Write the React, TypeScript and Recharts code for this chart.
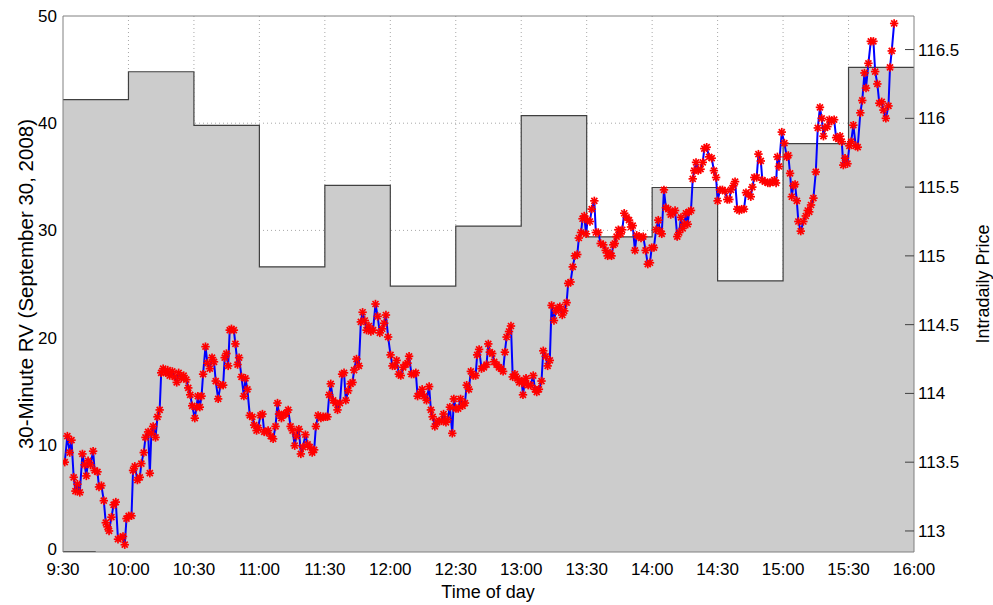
import React from "react";
import {
  ComposedChart,
  Area,
  Line,
  XAxis,
  YAxis,
  CartesianGrid,
  ReferenceLine,
  Label,
} from "recharts";

// minutes after 9:30 for the x axis ticks
const timeTicks = [0, 30, 60, 90, 120, 150, 180, 210, 240, 270, 300, 330, 360, 390];
const rvTicks = [0, 10, 20, 30, 40, 50];
const priceTicks = [113, 113.5, 114, 114.5, 115, 115.5, 116, 116.5];

// 30-minute realized variance, one value per half hour bin
const rvBinStarts = [0, 30, 60, 90, 120, 150, 180, 210, 240, 270, 300, 330, 360];
const rvValues = [42.2, 44.8, 39.8, 26.6, 34.2, 24.8, 30.4, 40.7, 29.4, 34.0, 25.3, 38.1, 45.2];

// short black segment on the baseline at the open
const zeroSegment = [0, 15];

// intraday price: [minutes after 9:30, price]
const pricePoints: [number, number][] = [
  [0.8, 113.5], [2.0, 113.69], [3.1, 113.57], [3.9, 113.66], [4.9, 113.39], [5.7, 113.29],
  [6.6, 113.34], [7.7, 113.28], [8.9, 113.56], [9.9, 113.48], [10.7, 113.4], [11.5, 113.51],
  [12.6, 113.48], [13.8, 113.58], [14.5, 113.44], [15.8, 113.43], [16.5, 113.32], [17.6, 113.33],
  [18.7, 113.22], [19.6, 113.06], [20.4, 113.03], [21.1, 113.0], [22.2, 113.1], [23.2, 113.19],
  [24.2, 113.21], [25.2, 112.94], [26.3, 112.95], [27.5, 112.96], [28.3, 112.9], [29.1, 113.09],
  [30.1, 113.11], [31.4, 113.11], [32.1, 113.44], [32.9, 113.47], [34.1, 113.37], [35.2, 113.39],
  [35.9, 113.49], [37.0, 113.57], [37.8, 113.68], [39.0, 113.72], [39.8, 113.42], [40.5, 113.71],
  [41.3, 113.76], [42.4, 113.68], [43.3, 113.83], [44.3, 113.88], [45.0, 114.15], [45.9, 114.18],
  [47.1, 114.15], [48.0, 114.17], [48.9, 114.13], [50.1, 114.16], [51.2, 114.12], [52.1, 114.08],
  [53.0, 114.15], [54.2, 114.11], [55.3, 114.13], [56.5, 114.1], [57.4, 114.04], [58.3, 113.99],
  [59.2, 113.91], [60.4, 113.82], [61.2, 113.9], [61.8, 113.98], [62.7, 113.9], [63.5, 113.98],
  [64.2, 114.14], [65.3, 114.34], [66.2, 114.22], [67.3, 114.18], [68.3, 114.26], [69.2, 114.23],
  [70.0, 114.09], [71.1, 113.96], [72.2, 114.06], [73.4, 114.06], [74.1, 114.26], [74.9, 114.29],
  [75.7, 114.2], [76.4, 114.46], [77.2, 114.47], [78.3, 114.46], [79.0, 114.36], [80.0, 114.21],
  [80.7, 114.26], [81.8, 114.12], [82.9, 113.98], [83.6, 114.11], [84.5, 114.03], [85.6, 113.84],
  [86.7, 113.83], [87.6, 113.77], [88.7, 113.73], [89.4, 113.75], [90.5, 113.84], [91.4, 113.85],
  [92.2, 113.72], [93.3, 113.72], [94.0, 113.73], [95.2, 113.69], [96.3, 113.67], [97.4, 113.76],
  [98.3, 113.93], [99.0, 113.85], [100.1, 113.82], [101.2, 113.85], [102.1, 113.85], [103.2, 113.88],
  [104.3, 113.76], [105.2, 113.73], [106.2, 113.62], [107.0, 113.69], [108.1, 113.74], [109.0, 113.56],
  [110.0, 113.61], [111.1, 113.7], [112.1, 113.63], [113.1, 113.61], [114.2, 113.57], [115.1, 113.59],
  [115.9, 113.76], [116.9, 113.84], [118.2, 113.82], [119.2, 113.83], [120.3, 113.83], [121.2, 113.83],
  [122.0, 113.99], [122.7, 114.07], [123.8, 113.95], [124.9, 113.93], [125.8, 113.88], [126.9, 113.93],
  [127.9, 114.14], [128.8, 114.15], [129.6, 113.95], [130.7, 114.02], [131.8, 114.07], [132.7, 114.08],
  [133.4, 114.17], [134.5, 114.25], [135.6, 114.2], [136.5, 114.52], [137.3, 114.59], [138.3, 114.53],
  [139.1, 114.46], [140.2, 114.49], [141.1, 114.45], [142.1, 114.46], [143.2, 114.65], [144.2, 114.56],
  [145.2, 114.44], [146.3, 114.47], [147.2, 114.51], [148.0, 114.57], [149.0, 114.41], [150.1, 114.28],
  [151.0, 114.2], [152.1, 114.2], [152.9, 114.24], [153.9, 114.14], [154.8, 114.13], [155.9, 114.19],
  [157.0, 114.21], [157.9, 114.22], [158.6, 114.27], [159.7, 114.14], [160.8, 114.14], [161.7, 114.15],
  [162.5, 113.98], [163.5, 114.0], [164.6, 114.03], [165.5, 113.98], [166.6, 113.95], [167.8, 114.05],
  [168.6, 113.88], [169.4, 113.83], [170.4, 113.76], [171.5, 113.79], [172.4, 113.8], [173.5, 113.8],
  [174.4, 113.85], [175.5, 113.79], [176.2, 113.81], [177.3, 113.9], [178.4, 113.71], [179.1, 113.96],
  [180.1, 113.89], [181.1, 113.89], [182.2, 113.96], [183.1, 113.91], [184.2, 113.93], [185.0, 114.06],
  [186.0, 114.03], [186.9, 114.16], [188.0, 114.13], [189.1, 114.13], [189.8, 114.28], [190.7, 114.32],
  [191.8, 114.18], [192.9, 114.19], [194.1, 114.21], [194.9, 114.36], [195.6, 114.3], [196.7, 114.29],
  [197.6, 114.23], [198.7, 114.21], [199.8, 114.19], [200.7, 114.18], [201.7, 114.16], [202.5, 114.3],
  [203.3, 114.41], [204.4, 114.45], [205.3, 114.49], [206.1, 114.12], [207.1, 114.14], [208.2, 114.11],
  [209.1, 114.08], [210.2, 114.09], [210.8, 113.99], [211.5, 114.07], [212.2, 114.11], [213.2, 114.06],
  [214.3, 114.06], [215.5, 114.13], [216.3, 114.03], [217.1, 114.01], [218.1, 114.03], [219.3, 114.09],
  [220.1, 114.31], [221.2, 114.27], [222.1, 114.2], [223.1, 114.24], [223.9, 114.64], [225.0, 114.53],
  [225.9, 114.6], [227.0, 114.62], [227.7, 114.63], [228.8, 114.57], [229.7, 114.6], [230.8, 114.66],
  [231.5, 114.8], [232.6, 114.81], [233.6, 114.92], [234.6, 115.0], [235.7, 115.01], [236.4, 115.13],
  [237.4, 115.17], [238.1, 115.27], [238.9, 115.29], [239.7, 115.16], [240.4, 115.26], [241.5, 115.25],
  [242.3, 115.34], [243.5, 115.4], [244.2, 115.17], [245.3, 115.17], [246.4, 115.09], [247.6, 115.08],
  [248.7, 115.04], [249.6, 115.0], [250.7, 115.02], [251.4, 115.0], [252.2, 115.08], [252.9, 115.09],
  [253.7, 115.14], [254.5, 115.19], [255.6, 115.16], [256.3, 115.19], [257.2, 115.31], [258.3, 115.28],
  [259.4, 115.26], [260.3, 115.21], [261.1, 115.22], [262.1, 115.04], [262.9, 115.15], [264.0, 115.14],
  [264.9, 115.13], [265.9, 115.14], [267.0, 115.04], [268.0, 114.94], [269.0, 114.95], [269.8, 115.06],
  [270.8, 115.06], [271.8, 115.19], [272.8, 115.26], [273.6, 115.18], [274.4, 115.16], [275.4, 115.48],
  [276.3, 115.35], [277.4, 115.34], [278.5, 115.3], [279.4, 115.31], [280.5, 115.33], [281.5, 115.14],
  [282.4, 115.17], [283.2, 115.28], [284.0, 115.2], [284.7, 115.23], [285.5, 115.31], [286.3, 115.23],
  [286.9, 115.32], [287.8, 115.33], [288.6, 115.56], [289.3, 115.62], [290.1, 115.68], [291.1, 115.62],
  [292.2, 115.63], [293.2, 115.68], [293.9, 115.78], [295.0, 115.79], [296.1, 115.72], [297.3, 115.71],
  [298.3, 115.62], [299.3, 115.57], [300.0, 115.4], [301.1, 115.48], [302.2, 115.48], [303.4, 115.47],
  [304.4, 115.41], [305.4, 115.41], [306.1, 115.48], [307.2, 115.51], [308.0, 115.54], [309.0, 115.34],
  [309.9, 115.33], [311.0, 115.34], [312.1, 115.34], [313.0, 115.46], [314.1, 115.45], [315.2, 115.43],
  [315.9, 115.5], [316.8, 115.57], [317.9, 115.57], [318.7, 115.74], [319.8, 115.69], [320.5, 115.55],
  [321.7, 115.54], [323.0, 115.53], [324.0, 115.53], [325.1, 115.54], [326.0, 115.55], [326.8, 115.53],
  [327.4, 115.72], [328.1, 115.65], [329.4, 115.9], [330.6, 115.82], [331.7, 115.72], [332.4, 115.73],
  [333.2, 115.6], [334.0, 115.43], [334.7, 115.51], [335.5, 115.52], [336.3, 115.4], [337.0, 115.25],
  [338.1, 115.18], [339.3, 115.25], [340.4, 115.29], [341.3, 115.33], [342.0, 115.32], [342.8, 115.37],
  [343.9, 115.42], [345.0, 115.61], [345.9, 115.93], [346.9, 116.08], [347.7, 116.0], [348.5, 115.87],
  [349.2, 115.93], [350.3, 115.94], [351.2, 115.99], [352.3, 115.98], [353.4, 115.99], [354.3, 115.86],
  [355.3, 115.85], [356.1, 115.87], [356.9, 115.83], [357.6, 115.66], [358.4, 115.71], [359.5, 115.67],
  [360.4, 115.8], [361.2, 115.83], [362.2, 115.95], [363.3, 115.8], [364.2, 115.79], [365.4, 116.04],
  [366.3, 116.13], [367.3, 116.33], [368.0, 116.22], [369.1, 116.4], [370.2, 116.56], [371.4, 116.56],
  [372.2, 116.34], [373.2, 116.25], [374.1, 116.11], [375.2, 116.12], [376.0, 116.06], [377.1, 116.0],
  [378.3, 116.09], [379.0, 116.37], [379.8, 116.49], [380.9, 116.69],
];

const FONT = "'Liberation Sans', Arial, Helvetica, sans-serif";
const AXIS_GRAY = "#808080";

function formatTime(m: number) {
  const total = 9 * 60 + 30 + m;
  const h = Math.floor(total / 60);
  const mm = total % 60;
  return `${h}:${mm < 10 ? "0" : ""}${mm}`;
}

const rvData = [
  ...rvBinStarts.map((t, i) => ({ t, rv: rvValues[i] })),
  { t: 390, rv: rvValues[rvValues.length - 1] },
];
const zeroData = zeroSegment.map((t) => ({ t, z: 0 }));
const priceData = pricePoints.map(([t, p]) => ({ t, p }));

// MATLAB style '*' marker
const Asterisk = (props: any) => {
  const { cx, cy } = props;
  if (cx == null || cy == null) return null;
  const r = 4.2;
  const d = 3;
  return (
    <g stroke="#ff0000" strokeWidth={1.7}>
      <line x1={cx - r} y1={cy} x2={cx + r} y2={cy} />
      <line x1={cx} y1={cy - r} x2={cx} y2={cy + r} />
      <line x1={cx - d} y1={cy - d} x2={cx + d} y2={cy + d} />
      <line x1={cx - d} y1={cy + d} x2={cx + d} y2={cy - d} />
    </g>
  );
};

const RvTick = (props: any) => {
  const { x, y, payload } = props;
  // matlab nudges the bottom label up a little
  const shift = payload.value === 0 ? -3 : 0;
  return (
    <text x={x} y={y + shift} dy="0.35em" textAnchor="end" fill="#000" fontSize={17} fontFamily={FONT}>
      {String(payload.value)}
    </text>
  );
};

const PriceTick = (props: any) => {
  const { x, y, payload } = props;
  return (
    <g>
      <line x1={x - 9} y1={y} x2={x} y2={y} stroke="#404040" />
      <text x={x + 4} y={y} dy="0.35em" fill="#000" fontSize={17} fontFamily={FONT}>
        {String(payload.value)}
      </text>
    </g>
  );
};

export default function App() {
  return (
    <div style={{ position: "absolute", left: 0, top: 0, background: "#fff", fontFamily: FONT }}>
      <ComposedChart width={993} height={605} margin={{ top: 16, right: 0, bottom: 0, left: 0 }}>
        <CartesianGrid
          yAxisId="rv"
          stroke="#a8a8a8"
          strokeDasharray="1 3"
          horizontalValues={[10, 20, 30, 40]}
          verticalValues={timeTicks.slice(1, -1)}
        />
        <XAxis
          dataKey="t"
          type="number"
          domain={[0, 390]}
          ticks={timeTicks}
          tickFormatter={formatTime}
          allowDataOverflow
          height={53}
          stroke={AXIS_GRAY}
          tickLine={false}
          tickSize={0}
          tickMargin={11}
          tick={{ fill: "#000", fontSize: 17, fontFamily: FONT }}
        >
          <Label
            content={() => (
              <text x={488} y={598} textAnchor="middle" fill="#000" fontSize={18} fontFamily={FONT}>
                Time of day
              </text>
            )}
          />
        </XAxis>
        <YAxis
          yAxisId="rv"
          orientation="left"
          domain={[0, 50]}
          ticks={rvTicks}
          allowDataOverflow
          width={63}
          stroke={AXIS_GRAY}
          tickLine={false}
          tickSize={0}
          tickMargin={6}
          tick={<RvTick />}
        >
          <Label
            content={() => (
              <text
                x={33}
                y={284}
                transform="rotate(-90 33 284)"
                textAnchor="middle"
                fill="#000"
                fontSize={20.5}
                fontFamily={FONT}
              >
                30-Minute RV (September 30, 2008)
              </text>
            )}
          />
        </YAxis>
        <YAxis
          yAxisId="price"
          orientation="right"
          domain={[112.847, 116.744]}
          ticks={priceTicks}
          allowDataOverflow
          width={79}
          stroke={AXIS_GRAY}
          tickLine={false}
          tickSize={0}
          tickMargin={0}
          tick={<PriceTick />}
        >
          <Label
            content={() => (
              <text
                x={989}
                y={284}
                transform="rotate(-90 989 284)"
                textAnchor="middle"
                fill="#000"
                fontSize={18}
                fontFamily={FONT}
              >
                Intradaily Price
              </text>
            )}
          />
        </YAxis>

        <Area
          yAxisId="rv"
          data={rvData}
          dataKey="rv"
          type="stepAfter"
          stroke="#404040"
          strokeWidth={1.2}
          fill="#cccccc"
          fillOpacity={1}
          dot={false}
          activeDot={false}
          isAnimationActive={false}
        />
        <Line
          yAxisId="rv"
          data={zeroData}
          dataKey="z"
          stroke="#000"
          strokeWidth={1.5}
          dot={false}
          activeDot={false}
          isAnimationActive={false}
        />
        <ReferenceLine yAxisId="rv" y={50} stroke={AXIS_GRAY} />
        <Line
          yAxisId="price"
          data={priceData}
          dataKey="p"
          type="linear"
          stroke="#0000ff"
          strokeWidth={2}
          dot={(p: any) => <Asterisk key={`d${p.index}`} {...p} />}
          activeDot={false}
          isAnimationActive={false}
        />
      </ComposedChart>
    </div>
  );
}
